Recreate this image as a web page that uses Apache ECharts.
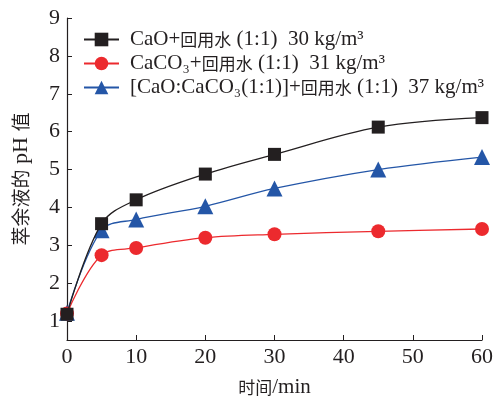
<!DOCTYPE html>
<html><head><meta charset="utf-8">
<script src="https://cdn.jsdelivr.net/npm/echarts@6/dist/echarts.min.js"></script>
<style>html,body{margin:0;padding:0;background:#fff}#c{width:496px;height:403px}</style>
</head><body><div id="c"></div>
<script>
const times = [0, 5, 10, 20, 30, 45, 60];
const caoValues = [1.18, 3.57, 4.2, 4.88, 5.4, 6.12, 6.37];
const caco3Values = [1.2, 2.74, 2.93, 3.2, 3.29, 3.37, 3.43];
const mixValues = [1.22, 3.4, 3.68, 4.03, 4.5, 5.0, 5.33];
const seriesNames = [
  'CaO+回用水 (1:1)  30 kg/m³',
  'CaCO₃+回用水 (1:1)  31 kg/m³',
  '[CaO:CaCO₃(1:1)]+回用水 (1:1)  37 kg/m³'
];
const yTickValues = [1, 2, 3, 4, 5, 6, 7, 8, 9];

const FONT = '"Liberation Serif", "Times New Roman", "Noto Sans CJK SC", serif';
const CJK = '"Noto Sans CJK SC", sans-serif';
const colors = ['#231f20', '#ec2a2e', '#2456a7'];
const symbols = ['rect', 'circle', 'triangle'];
const sizes = [13, 14, 16];
const valuesList = [caoValues, caco3Values, mixValues];

function cjkRich(s) {
  return s.replace(/([\u4e00-\u9fff]+)/g, '{c|$1}');
}

const chart = echarts.init(document.getElementById('c'), null, {renderer: 'canvas'});
chart.setOption({
  animation: false,
  backgroundColor: '#fff',
  grid: {left: 67, right: 13, top: 18, bottom: 61, containLabel: false},
  legend: {
    left: 78, top: 24, orient: 'vertical', itemGap: 3,
    itemWidth: 35, itemHeight: 17,
    formatter: name => cjkRich(name),
    textStyle: {
      fontFamily: FONT, fontSize: 21, color: '#231f20', padding: [0, 0, 0, 6],
      rich: {c: {fontFamily: CJK, fontSize: 17, color: '#231f20'}}
    },
    data: seriesNames
  },
  xAxis: {
    type: 'value', min: 0, max: 60, interval: 10,
    name: cjkRich('时间') + '/min', nameLocation: 'middle', nameGap: 37,
    nameTextStyle: {fontFamily: FONT, fontSize: 21, color: '#231f20',
      rich: {c: {fontFamily: CJK, fontSize: 17, color: '#231f20'}}},
    axisLine: {lineStyle: {color: '#231f20', width: 1.2}},
    axisTick: {inside: true, length: 5, lineStyle: {color: '#231f20'}},
    axisLabel: {fontFamily: FONT, fontSize: 22, color: '#231f20', margin: 6},
    splitLine: {show: false}
  },
  yAxis: {
    type: 'value', min: 0.5, max: 9,
    name: cjkRich('萃余液的') + ' pH ' + cjkRich('值'), nameLocation: 'middle', nameGap: 35, nameRotate: 90,
    nameTextStyle: {fontFamily: FONT, fontSize: 22, color: '#231f20',
      rich: {c: {fontFamily: CJK, fontSize: 19, color: '#231f20'}}},
    axisLine: {show: true, lineStyle: {color: '#231f20', width: 1.2}},
    axisTick: {show: true, inside: true, length: 5, customValues: yTickValues, lineStyle: {color: '#231f20'}},
    axisLabel: {fontFamily: FONT, fontSize: 22, color: '#231f20', margin: 7, customValues: yTickValues},
    splitLine: {show: false}
  },
  series: valuesList.map((vals, i) => ({
    name: seriesNames[i],
    type: 'line',
    smooth: 0.35,
    data: times.map((t, j) => [t, vals[j]]),
    symbol: symbols[i],
    symbolSize: sizes[i],
    lineStyle: {color: colors[i], width: 1.3},
    itemStyle: {color: colors[i]},
    z: 3 - i
  }))
});
</script></body></html>
